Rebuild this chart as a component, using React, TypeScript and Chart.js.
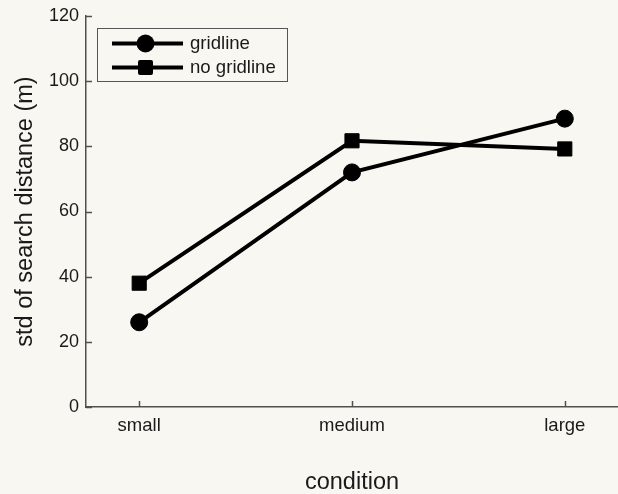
import React, { useEffect, useRef } from "react";
import { Chart, registerables } from "chart.js";

Chart.register(...registerables);

const categories = ["small", "medium", "large"];
const gridline = [26, 72, 88.5];
const noGridline = [38, 81.7, 79.2];
const seriesNames = ["gridline", "no gridline"];
const yTicks = [0, 20, 40, 60, 80, 100, 120];

const BG = "#f8f7f1";
const AXIS = "#505050";
const TEXT = "#1a1a1a";
const FONT = "'Liberation Sans', Arial, Helvetica, sans-serif";

export default function App() {
  const ref = useRef<HTMLCanvasElement | null>(null);

  useEffect(() => {
    if (!ref.current) return;

    const bgPlugin = {
      id: "bg",
      beforeDraw(chart: any) {
        const { ctx, width, height } = chart;
        ctx.save();
        ctx.fillStyle = BG;
        ctx.fillRect(0, 0, width, height);
        ctx.restore();
      },
    };

    const inwardTicks = {
      id: "inwardTicks",
      afterDatasetsDraw(chart: any) {
        const { ctx, scales } = chart;
        const x = scales.x;
        const y = scales.y;
        ctx.save();
        ctx.strokeStyle = AXIS;
        ctx.lineWidth = 1.5;
        ctx.beginPath();
        for (const v of yTicks) {
          const py = Math.round(y.getPixelForValue(v)) + 0.5;
          ctx.moveTo(x.left, py);
          ctx.lineTo(x.left + 6, py);
        }
        categories.forEach((_, i) => {
          const px = Math.round(x.getPixelForValue(i + 1)) + 0.5;
          ctx.moveTo(px, y.bottom);
          ctx.lineTo(px, y.bottom - 6);
        });
        ctx.stroke();
        ctx.restore();
      },
    };

    const legendPlugin = {
      id: "customLegend",
      afterDraw(chart: any) {
        const { ctx } = chart;
        ctx.save();
        ctx.fillStyle = BG;
        ctx.fillRect(97.5, 28.5, 190, 53);
        ctx.strokeStyle = "#555";
        ctx.lineWidth = 1;
        ctx.strokeRect(97.5, 28.5, 190, 53);
        const rows = [43.5, 67.5];
        rows.forEach((ry, i) => {
          ctx.strokeStyle = "#000";
          ctx.lineWidth = 4;
          ctx.beginPath();
          ctx.moveTo(112, ry);
          ctx.lineTo(183, ry);
          ctx.stroke();
          ctx.fillStyle = "#000";
          if (i === 0) {
            ctx.beginPath();
            ctx.arc(145.5, ry, 9, 0, Math.PI * 2);
            ctx.fill();
          } else {
            ctx.beginPath();
            (ctx as any).roundRect
              ? (ctx as any).roundRect(138, ry - 7.5, 15, 15, 2)
              : ctx.rect(138, ry - 7.5, 15, 15);
            ctx.fill();
          }
          ctx.fillStyle = TEXT;
          ctx.font = `18.6px ${FONT}`;
          ctx.textBaseline = "middle";
          ctx.textAlign = "left";
          ctx.fillText(seriesNames[i], 190, ry);
        });
        ctx.restore();
      },
    };

    const chart = new Chart(ref.current, {
      type: "line",
      data: {
        datasets: [
          {
            label: seriesNames[0],
            data: gridline.map((v, i) => ({ x: i + 1, y: v })),
            borderColor: "#000",
            backgroundColor: "#000",
            borderWidth: 4,
            pointStyle: "circle",
            pointRadius: 8.5,
            pointBorderWidth: 1,
            pointBackgroundColor: "#000",
            pointBorderColor: "#000",
            tension: 0,
          },
          {
            label: seriesNames[1],
            data: noGridline.map((v, i) => ({ x: i + 1, y: v })),
            borderColor: "#000",
            backgroundColor: "#000",
            borderWidth: 4,
            pointStyle: "rect",
            pointRadius: 10,
            pointBorderWidth: 1,
            pointBackgroundColor: "#000",
            pointBorderColor: "#000",
            tension: 0,
          },
        ],
      },
      options: {
        animation: false,
        responsive: false,
        maintainAspectRatio: false,
        layout: { autoPadding: false, padding: { top: 16, right: 0, left: 0, bottom: 0 } },
        plugins: {
          legend: { display: false },
          tooltip: { enabled: false },
        },
        scales: {
          x: {
            type: "linear",
            min: 0.75,
            max: 3.25,
            afterBuildTicks(scale: any) {
              scale.ticks = categories.map((_, i) => ({ value: i + 1 }));
            },
            afterFit(scale: any) {
              scale.height = 87;
              scale.paddingLeft = 0;
              scale.paddingRight = 0;
            },
            grid: { display: false, drawTicks: false },
            border: { display: true, color: AXIS, width: 1.5 },
            ticks: {
              padding: 8,
              maxRotation: 0,
              autoSkip: false,
              color: TEXT,
              font: { family: FONT, size: 18.5 },
              callback: (v: any) => categories[Math.round(v) - 1] ?? "",
            },
            title: {
              display: true,
              text: "condition",
              color: TEXT,
              font: { family: FONT, size: 23.5, lineHeight: 1 },
              padding: { top: 0, bottom: 0 },
            },
          },
          y: {
            type: "linear",
            min: 0,
            max: 120,
            afterBuildTicks(scale: any) {
              scale.ticks = yTicks.map((v) => ({ value: v }));
            },
            afterFit(scale: any) {
              scale.width = 86;
              scale.paddingTop = 0;
              scale.paddingBottom = 0;
            },
            grid: { display: false, drawTicks: false },
            border: { display: true, color: AXIS, width: 1.5 },
            ticks: {
              padding: 7,
              color: TEXT,
              font: { family: FONT, size: 18 },
            },
            title: {
              display: true,
              text: "std of search distance (m)",
              color: TEXT,
              font: { family: FONT, size: 23.5 },
              padding: { top: 11, bottom: 0 },
            },
          },
        },
      },
      plugins: [bgPlugin, inwardTicks, legendPlugin],
    } as any);

    return () => chart.destroy();
  }, []);

  return (
    <div
      style={{
        position: "fixed",
        left: 0,
        top: 0,
        width: 618,
        height: 494,
        background: BG,
      }}
    >
      <canvas ref={ref} width={618} height={494} style={{ width: 618, height: 494, display: "block" }} />
    </div>
  );
}
